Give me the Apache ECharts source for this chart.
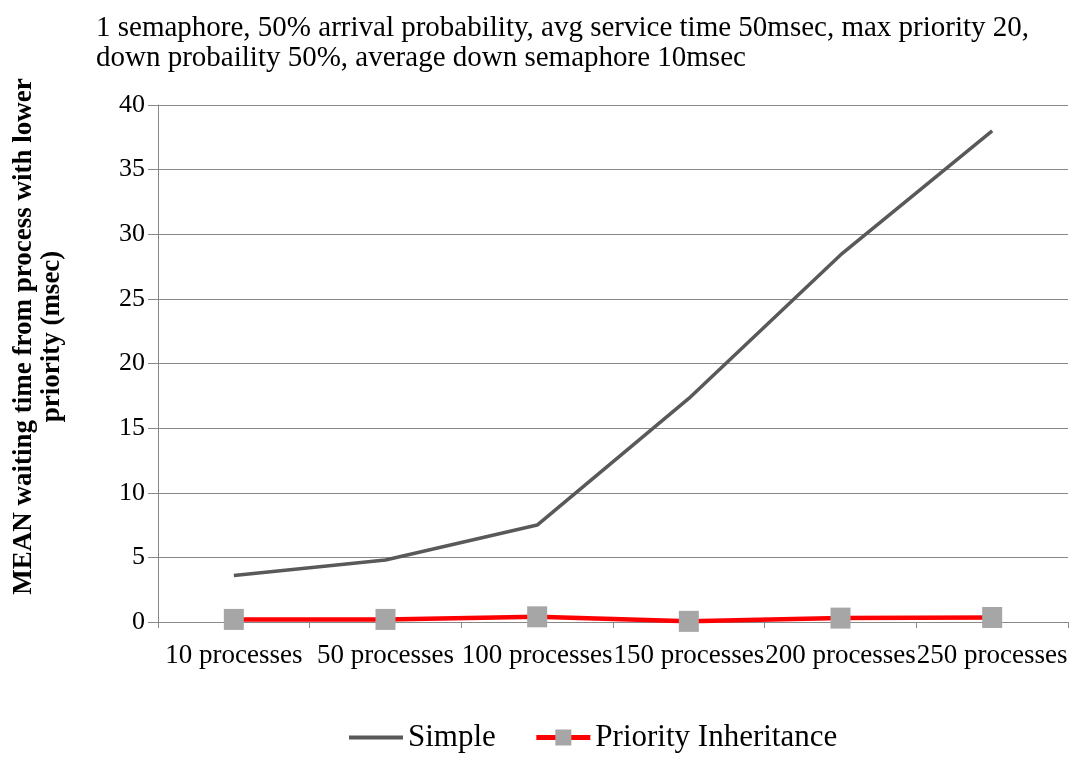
<!DOCTYPE html>
<html><head><meta charset="utf-8">
<script src="https://cdn.jsdelivr.net/npm/echarts@6/dist/echarts.min.js"></script>
<style>html,body{margin:0;padding:0;background:#fff}#c{width:1072px;height:758px}</style>
</head><body><div id="c"></div>
<script>
const categories = ['10 processes','50 processes','100 processes','150 processes','200 processes','250 processes'];
const simpleValues = [3.6, 4.8, 7.5, 17.3, 28.4, 38.0];
const priorityValues = [0.2, 0.2, 0.4, 0.05, 0.3, 0.35];
const titleText = '1 semaphore, 50% arrival probability, avg service time 50msec, max priority 20,\ndown probaility 50%, average down semaphore 10msec';
const yName = 'MEAN waiting time from process with lower\npriority (msec)';

const serif = '"Liberation Serif", "DejaVu Serif", serif';
const chart = echarts.init(document.getElementById('c'));
chart.setOption({
  animation: false,
  backgroundColor: '#fff',
  title: {
    text: titleText, left: 96, top: 13, padding: 0,
    textStyle: { fontFamily: serif, fontSize: 29, fontWeight: 'normal', color: '#000', lineHeight: 30 }
  },
  legend: {
    bottom: 0, left: 342, itemGap: 38, itemWidth: 54, itemHeight: 20,
    textStyle: { fontFamily: serif, fontSize: 31, color: '#000' },
    data: [
      { name: 'Simple', itemStyle: { opacity: 0 }, lineStyle: { width: 4, color: '#595959' } },
      { name: 'Priority Inheritance', lineStyle: { width: 5, color: '#ff0000' } }
    ]
  },
  grid: { left: 158, right: 4, top: 105, bottom: 136, outerBoundsMode: 'none', containLabel: false },
  xAxis: {
    type: 'category', data: categories, boundaryGap: true,
    axisLine: { lineStyle: { color: '#888', width: 1 } },
    axisTick: { show: true, length: 6, lineStyle: { color: '#888' } },
    axisLabel: { fontFamily: serif, fontSize: 27, color: '#000', margin: 20, interval: 0, hideOverlap: false }
  },
  yAxis: {
    type: 'value', min: 0, max: 40, interval: 5,
    name: yName, nameLocation: 'middle', nameRotate: 90, nameGap: 92,
    nameTextStyle: { fontFamily: serif, fontSize: 27, fontWeight: 'bold', color: '#000', lineHeight: 28, padding: [0, 0, 0, 54] },
    axisLine: { show: true, lineStyle: { color: '#888' } },
    axisTick: { show: true, length: 10, inside: false, lineStyle: { color: '#888' } },
    axisLabel: { fontFamily: serif, fontSize: 26, color: '#000', margin: 13 },
    splitLine: { lineStyle: { color: '#888', width: 1 } }
  },
  series: [
    {
      name: 'Simple', type: 'line', data: simpleValues,
      symbol: 'none', color: '#595959',
      lineStyle: { color: '#595959', width: 3.5 }
    },
    {
      name: 'Priority Inheritance', type: 'line', data: priorityValues,
      symbol: 'rect', symbolSize: [20, 21], color: '#ff0000',
      itemStyle: { color: '#a6a6a6' },
      lineStyle: { color: '#ff0000', width: 4.5 }
    }
  ]
});
</script></body></html>
